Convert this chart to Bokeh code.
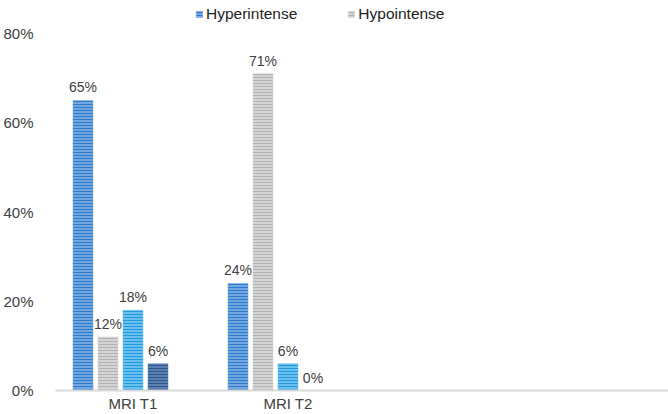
from bokeh.plotting import figure
from bokeh.models import (ColumnDataSource, Range1d, FixedTicker, NumeralTickFormatter,
                          Legend, LegendItem, LabelSet)
from bokeh.core.properties import value
from bokeh.embed import file_html
from bokeh.resources import INLINE

# Chart data
categories = ["MRI T1", "MRI T2"]
hyperintense = [0.65, 0.24]
hypointense = [0.12, 0.71]
series_3 = [0.18, 0.06]
series_4 = [0.06, 0.00]
y_ticks = [0, 0.2, 0.4, 0.6, 0.8]

series = [
    ("Hyperintense", hyperintense, "#76a6e0", "#2a7ad0"),
    ("Hypointense", hypointense, "#d4d4d4", "#b2b2b2"),
    (None, series_3, "#6cc0ee", "#1f98de"),
    (None, series_4, "#5a7fb0", "#2c5890"),
]

FONT = "Liberation Sans"
TEXT = "#404040"

p = figure(width=668, height=414, output_backend="svg", toolbar_location=None,
           x_range=Range1d(0, 3.955), y_range=Range1d(0, 0.874),
           min_border_left=55, min_border_right=0, min_border_top=0,
           min_border_bottom=24)
p.outline_line_color = None
p.xgrid.visible = False
p.ygrid.visible = False

slot = 0.1613
bar_w = 0.129
centers = [i + 0.5 for i in range(len(categories))]

items = []
for k, (name, vals, fill, hatch) in enumerate(series):
    xs = [c + (k - 2) * slot for c in centers]
    src = ColumnDataSource(dict(x=xs, top=vals,
                                lbl=[f"{round(v * 100)}%" for v in vals]))
    r = p.vbar(x="x", top="top", width=bar_w, source=src,
               fill_color=fill, line_color=fill, line_width=0.5,
               hatch_pattern="horizontal_line", hatch_color=hatch,
               hatch_scale=3, hatch_weight=1)
    labels = LabelSet(x="x", y="top", text="lbl", source=src,
                      text_align="center", text_baseline="bottom", y_offset=5,
                      text_font=value(FONT), text_font_size=value("14px"),
                      text_color=TEXT)
    p.add_layout(labels)
    if name:
        items.append(LegendItem(label=name, renderers=[r]))

legend = Legend(items=items, orientation="horizontal", location=(140, 367),
                glyph_width=8, glyph_height=8, label_standoff=3, spacing=50,
                padding=0, margin=0, border_line_color=None,
                background_fill_alpha=0,
                label_text_font=FONT, label_text_font_size="15.5px",
                label_text_color="#222222")
p.add_layout(legend)

p.yaxis.ticker = FixedTicker(ticks=y_ticks)
p.yaxis.formatter = NumeralTickFormatter(format="0%")
p.yaxis.axis_line_color = None
p.yaxis.major_tick_line_color = None
p.yaxis.major_tick_out = 0
p.yaxis.major_tick_in = 0
p.yaxis.minor_tick_line_color = None
p.yaxis.major_label_standoff = 22
p.yaxis.major_label_text_font = FONT
p.yaxis.major_label_text_font_size = "15px"
p.yaxis.major_label_text_color = TEXT

p.xaxis.ticker = FixedTicker(ticks=centers)
p.xaxis.major_label_overrides = {c: n for c, n in zip(centers, categories)}
p.xaxis.axis_line_color = "#d9d9d9"
p.xaxis.axis_line_width = 2
p.xaxis.major_tick_line_color = None
p.xaxis.major_tick_out = 0
p.xaxis.major_tick_in = 0
p.xaxis.minor_tick_line_color = None
p.xaxis.major_label_standoff = 4
p.xaxis.major_label_text_font = FONT
p.xaxis.major_label_text_font_size = "15px"
p.xaxis.major_label_text_color = TEXT

open("out.html", "w").write(file_html(p, INLINE))
